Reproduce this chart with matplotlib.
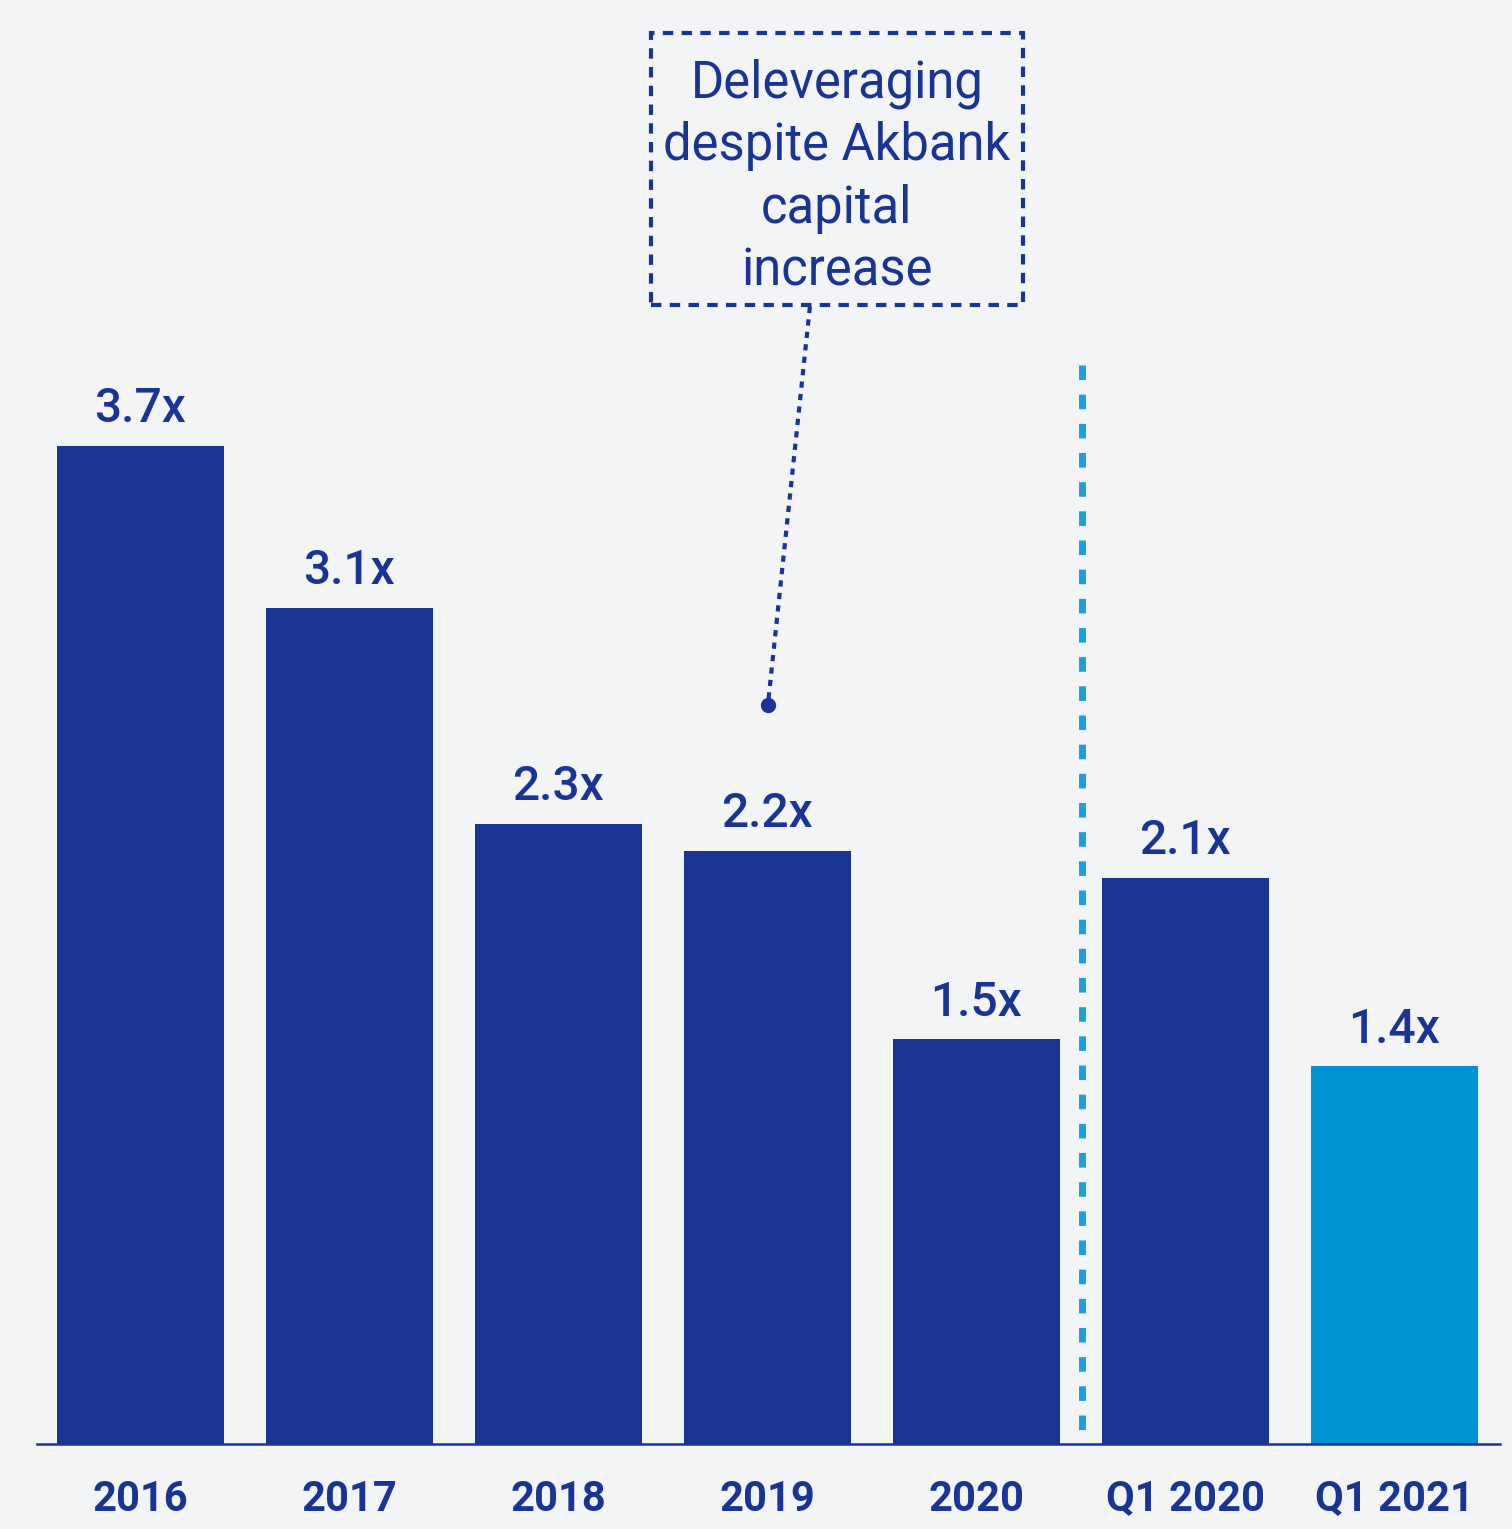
import matplotlib
matplotlib.use("Agg")
import matplotlib.pyplot as plt
from matplotlib.patches import Rectangle

categories = ["2016", "2017", "2018", "2019", "2020", "Q1 2020", "Q1 2021"]
values = [3.7, 3.1, 2.3, 2.2, 1.5, 2.1, 1.4]
value_labels = ["3.7x", "3.1x", "2.3x", "2.2x", "1.5x", "2.1x", "1.4x"]
annotation_text = "Deleveraging\ndespite Akbank\ncapital\nincrease"

DARK = "#1a3494"
LIGHT = "#0093d1"
DIVIDER = "#1ba0dc"
BG = "#f3f4f6"
bar_colors = [DARK] * 6 + [LIGHT]

plt.rcParams["font.family"] = ["Roboto", "DejaVu Sans"]

fig = plt.figure(figsize=(15.12, 15.29), dpi=100, facecolor=BG)
ax = fig.add_axes([37 / 1512, 85 / 1529, 1463 / 1512, 1444 / 1529])
ax.set_facecolor(BG)

x = list(range(len(categories)))
ax.bar(x, values, width=0.8, color=bar_colors, zorder=2)
ax.set_xlim(-0.495, 6.505)
ax.set_ylim(0, 5.354)

for xi, v, lab in zip(x, values, value_labels):
    ax.annotate(lab, (xi, v), xytext=(0, 17), textcoords="offset points",
                ha="center", va="baseline", fontsize=34.5, fontweight="medium", color=DARK)

ax.set_xticks(x)
ax.set_xticklabels(categories, fontsize=30, fontweight="bold", color=DARK)
ax.tick_params(axis="x", length=0, pad=25)
ax.set_yticks([])
for s in ["top", "left", "right"]:
    ax.spines[s].set_visible(False)
ax.spines["bottom"].set_color(DARK)
ax.spines["bottom"].set_linewidth(1.8)
ax.spines["bottom"].set_zorder(3)

# divider between annual and quarterly (drawn from top so dashes start there)
ax.plot([4.505, 4.505], [4.0, 0], color=DIVIDER, lw=5, linestyle=(0, (2.1, 2.1)),
        solid_capstyle="butt", dash_capstyle="butt", zorder=1)

# annotation box
bx0, bx1 = 2.443, 4.222
by0, by1 = 4.223, 5.232
box = Rectangle((bx0, by0), bx1 - bx0, by1 - by0, fill=False, edgecolor=DARK,
                lw=3, linestyle=(0, (2.5, 2.0)), zorder=3, clip_on=False)
ax.add_patch(box)
ax.text((bx0 + bx1) / 2, (by0 + by1) / 2 - 0.03, annotation_text, ha="center", va="center",
        fontsize=36.5, color=DARK, linespacing=1.32, zorder=4)

# connector with dot
ax.plot([3.203, 3.002], [4.216, 2.740], color=DARK, lw=3, linestyle=(0, (1.5, 1.5)), zorder=3)
ax.plot([3.002], [2.740], marker="o", markersize=10, color=DARK, zorder=4)

fig.savefig("out.png", dpi=100, facecolor=BG)
